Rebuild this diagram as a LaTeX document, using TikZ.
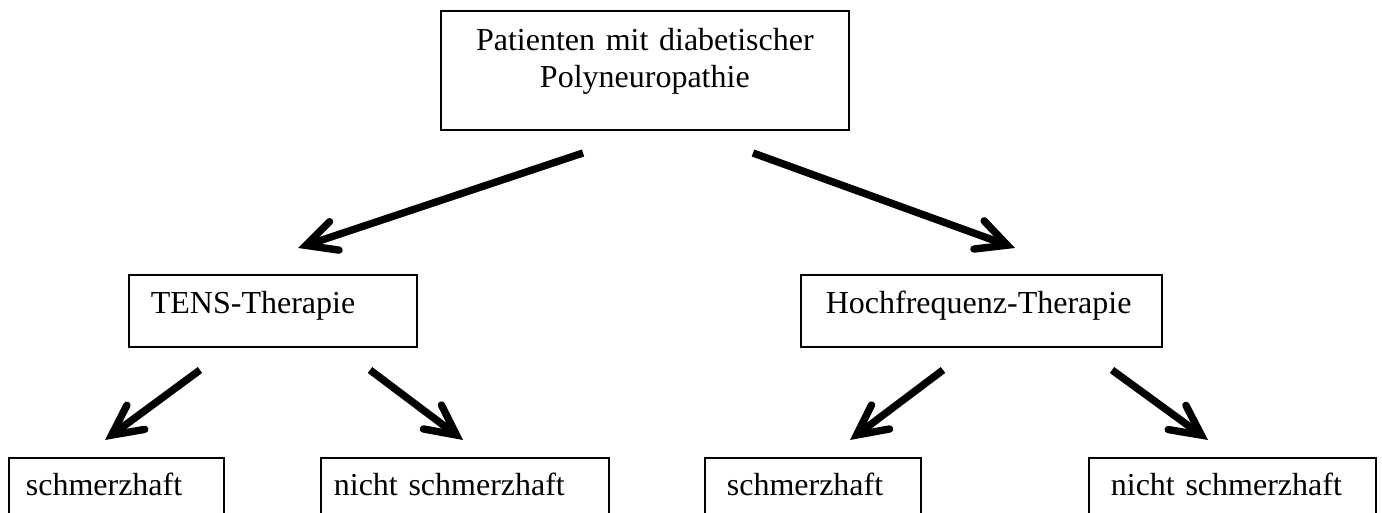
\documentclass[tikz,border=0pt]{standalone}
\usepackage{fontspec}
\setmainfont{Liberation Serif}
\usetikzlibrary{arrows.meta}
\begin{document}
\begin{tikzpicture}[x=0.5pt,y=-0.5pt,
  box/.style={draw, line width=0.85pt, inner ysep=0pt, anchor=north west,
    font=\fontsize{16}{18.5}\selectfont},
  leftbox/.style={box, align=left},
  arr/.style={line width=3.7pt, line cap=butt,
    -{Straight Barb[length=15pt,width=15pt,line cap=round,line join=miter]}}]
\useasboundingbox (0,0) rectangle (1382,513);
\clip (0,0) rectangle (1382,513);
% top box
\node[box, inner xsep=0pt, text width=204pt, align=center,
  text height=20pt, text depth=39.5pt] (top) at (440,10)
  {Patienten mit diabetischer\\Polyneuropathie};
% middle boxes
\node[leftbox, inner xsep=11pt, text width=122pt,
  text height=19.5pt, text depth=16.5pt] (tens) at (128,274)
  {\mbox{TENS-Therapie}};
\node[leftbox, inner xsep=12.5pt, text width=155.5pt,
  text height=19.5pt, text depth=16.5pt] (hf) at (800,274)
  {\mbox{Hochfrequenz-Therapie}};
% bottom boxes (cut off at the lower edge)
\node[leftbox, inner xsep=8.5pt, text width=90.5pt,
  text height=19pt, text depth=25pt] (b1) at (8,457) {\mbox{schmerzhaft}};
\node[leftbox, inner xsep=6.5pt, text width=131pt,
  text height=19pt, text depth=25pt] (b2) at (320,457) {\mbox{nicht schmerzhaft}};
\node[leftbox, inner xsep=11pt, text width=86pt,
  text height=19pt, text depth=25pt] (b3) at (704,457) {\mbox{schmerzhaft}};
\node[leftbox, inner xsep=11pt, text width=121.5pt,
  text height=19pt, text depth=25pt] (b4) at (1088,457) {\mbox{nicht schmerzhaft}};
% arrow end points
\coordinate (a1s) at (583,153); \coordinate (a1e) at (298,248);
\coordinate (a2s) at (753,153); \coordinate (a2e) at (1015,248);
\coordinate (a3s) at (200,370); \coordinate (a3e) at (105,440);
\coordinate (a4s) at (370,370); \coordinate (a4e) at (463,440);
\coordinate (a5s) at (943,370); \coordinate (a5e) at (850,440);
\coordinate (a6s) at (1112,370); \coordinate (a6e) at (1208,440);
\draw[arr] (a1s) -- (a1e);
\draw[arr] (a2s) -- (a2e);
\draw[arr] (a3s) -- (a3e);
\draw[arr] (a4s) -- (a4e);
\draw[arr] (a5s) -- (a5e);
\draw[arr] (a6s) -- (a6e);
\end{tikzpicture}
\end{document}
